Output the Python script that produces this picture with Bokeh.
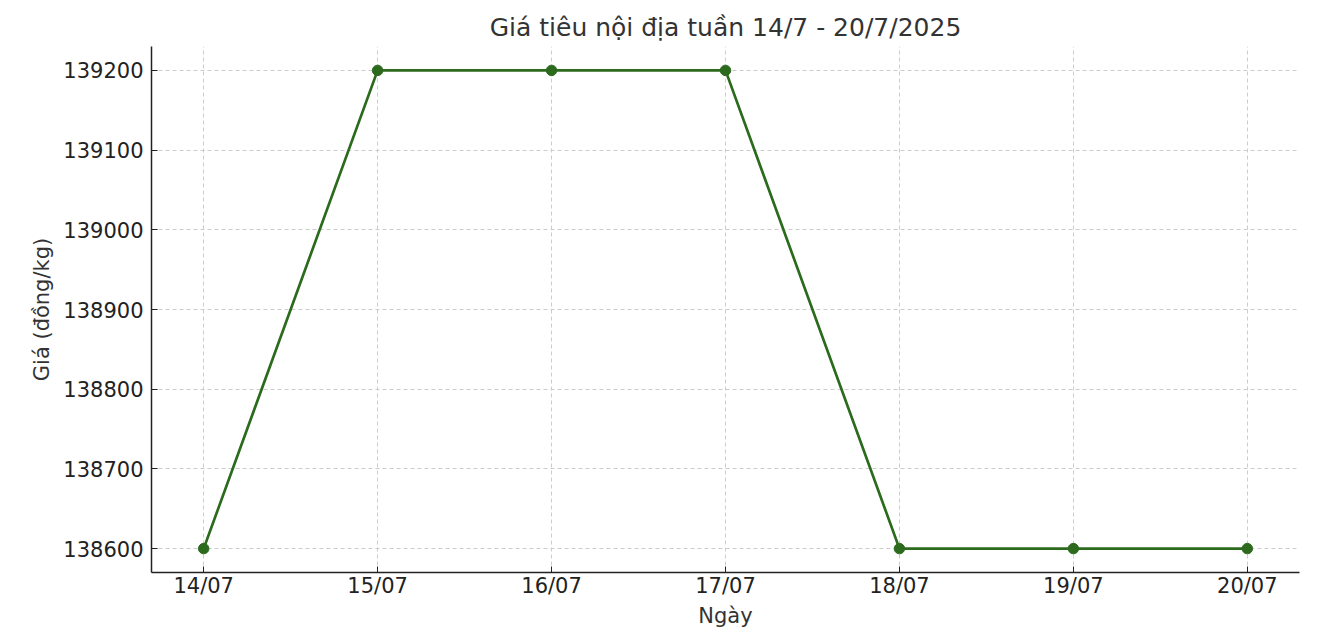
from bokeh.plotting import figure
from bokeh.models import FixedTicker, ColumnDataSource
from bokeh.embed import file_html
from bokeh.resources import INLINE

dates = ["14/07", "15/07", "16/07", "17/07", "18/07", "19/07", "20/07"]
prices = [138600, 139200, 139200, 139200, 138600, 138600, 138600]
y_ticks = [138600, 138700, 138800, 138900, 139000, 139100, 139200]

xs = list(range(len(dates)))
src = ColumnDataSource(data=dict(x=xs, y=prices))

FONT = "DejaVu Sans"
COLOR = "#2C6A1E"

p = figure(width=1316, height=634, output_backend="svg", toolbar_location=None,
           x_range=(-0.3, len(dates) - 1 + 0.3), y_range=(138570, 139230),
           title="Giá tiêu nội địa tuần 14/7 - 20/7/2025")
p.min_border_left = 151
p.min_border_right = 17
p.min_border_top = 46
p.min_border_bottom = 62
p.outline_line_color = None
p.background_fill_color = "white"
p.border_fill_color = "white"

p.title.text_font = FONT
p.title.text_font_size = "25px"
p.title.text_font_style = "normal"
p.title.text_color = "#333333"
p.title.align = "center"

p.line("x", "y", source=src, line_color=COLOR, line_width=2.7)
p.scatter("x", "y", source=src, size=10.5, fill_color=COLOR, line_color=COLOR)

p.xaxis.ticker = FixedTicker(ticks=xs)
p.xaxis.major_label_overrides = {i: d for i, d in enumerate(dates)}
p.yaxis.ticker = FixedTicker(ticks=y_ticks)
p.yaxis.formatter.use_scientific = False

for ax in (p.xaxis, p.yaxis):
    ax.axis_line_color = "#222222"
    ax.axis_line_width = 1.5
    ax.major_tick_in = 6
    ax.major_tick_out = 0
    ax.major_tick_line_color = "#222222"
    ax.major_tick_line_width = 1
    ax.minor_tick_line_color = None
    ax.major_label_text_font = FONT
    ax.major_label_text_font_size = "21px"
    ax.major_label_text_color = "#222222"
    ax.axis_label_text_font = FONT
    ax.axis_label_text_font_size = "21px"
    ax.axis_label_text_font_style = "normal"
    ax.axis_label_text_color = "#333333"

p.xaxis.axis_label = "Ngày"
p.yaxis.axis_label = "Giá (đồng/kg)"
p.xaxis.major_label_standoff = 1
p.yaxis.major_label_standoff = 8
p.xaxis.axis_label_standoff = 3
p.yaxis.axis_label_standoff = 6

for g in (p.xgrid, p.ygrid):
    g.grid_line_color = "#cccccc"
    g.grid_line_dash = "4 3"
    g.grid_line_width = 1

open("out.html", "w").write(file_html(p, INLINE))
